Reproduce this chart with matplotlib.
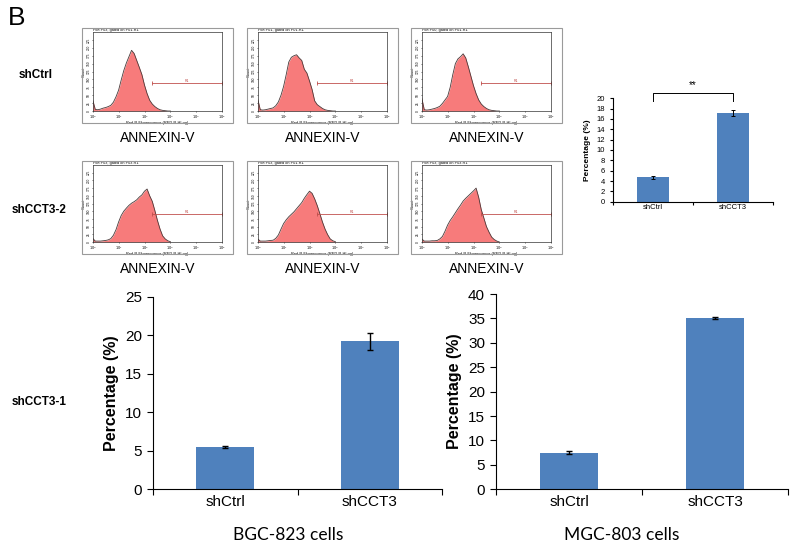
import matplotlib
matplotlib.use("Agg")
import matplotlib.pyplot as plt
import numpy as np
from matplotlib.patches import Rectangle

plt.rcParams['font.family'] = ['Liberation Sans', 'DejaVu Sans']

W, H = 800, 547

# ---- flow cytometry histograms (counts read at log10 steps of 0.1 from 10^0 to 10^3)
log_pos = np.round(np.arange(0, 3.01, 0.1), 1)
ctrl_1 = [35, 5, 4, 6, 9, 11, 14, 18, 28, 45, 66, 98, 128, 152, 172, 192, 182, 160, 138, 115,
          82, 55, 34, 22, 14, 8, 4, 2, 1, 0, 0]
ctrl_2 = [38, 4, 3, 4, 6, 8, 10, 17, 29, 50, 78, 115, 155, 170, 175, 178, 168, 160, 132, 120,
          95, 68, 32, 20, 14, 8, 4, 2, 1, 0, 0]
ctrl_3 = [42, 4, 3, 4, 6, 8, 11, 15, 24, 35, 46, 75, 115, 150, 165, 172, 181, 168, 140, 110,
          80, 55, 35, 22, 14, 8, 4, 2, 1, 0, 0]
kd_1 = [12, 3, 3, 3, 4, 5, 7, 11, 22, 40, 65, 86, 100, 110, 119, 126, 131, 137, 146, 153,
        165, 172, 150, 132, 102, 70, 42, 20, 10, 4, 1]
kd_2 = [10, 3, 3, 3, 4, 5, 6, 12, 23, 42, 60, 72, 82, 90, 98, 108, 118, 128, 142, 154,
        165, 158, 140, 118, 92, 65, 42, 24, 10, 4, 1]
kd_3 = [10, 3, 3, 3, 4, 4, 5, 10, 18, 35, 55, 70, 82, 95, 108, 120, 133, 142, 150, 158,
        166, 175, 145, 105, 78, 50, 32, 16, 8, 3, 0]
hist_titles = [["Plot P03, gated on P01.R1", "Plot P01, gated on P01.R1", "Plot P00, gated on P01.R1"],
               ["Plot P03, gated on P03.R1", "Plot P03, gated on P01.R1", "Plot P03, gated on P03.R1"]]
gate_start = 2.28
gate_level = 90

# ---- bar charts
groups = ["shCtrl", "shCCT3"]
small_vals = [4.7, 17.2]
small_errs = [0.3, 0.6]
bgc_vals = [5.5, 19.2]
bgc_errs = [0.15, 1.1]
mgc_vals = [7.5, 35.1]
mgc_errs = [0.3, 0.25]

bar_color = "#4F81BD"


def rect(l, t, r, b):
    return [l / W, 1 - b / H, (r - l) / W, (b - t) / H]


fig = plt.figure(figsize=(8, 5.47), dpi=100)

fig.text(8 / W, 1 - 18 / H, "B", fontsize=19, va="center", ha="left")

rows = [[ctrl_1, ctrl_2, ctrl_3], [kd_1, kd_2, kd_3]]
row_tops = [32, 165]
row_bots = [111, 242]
col_lefts = [92.7, 257.7, 421.7]
for ri, row in enumerate(rows):
    for ci, counts in enumerate(row):
        l = col_lefts[ci]
        r = l + 129.5
        t, b = row_tops[ri], row_bots[ri]
        # outer grey frame
        fig.add_artist(Rectangle(((l - 10.5) / W, 1 - (b + 12) / H), (r - l + 21.5) / W,
                                 (b - t + 16) / H, transform=fig.transFigure,
                                 fill=False, edgecolor="#9A9A9A", lw=0.8))
        ax = fig.add_axes(rect(l, t, r, b))
        x = 10 ** log_pos
        ax.fill_between(x, 0, counts, color="#F77B7B", lw=0)
        ax.plot(x, counts, color="#4A3A3A", lw=0.6)
        ax.set_xscale("log")
        ax.set_xlim(1, 1e5)
        ax.set_ylim(0, 250)
        ax.plot([10 ** gate_start, 1e5], [gate_level, gate_level], color="#C0504D", lw=0.6,
                marker="|", ms=3, mew=0.6, clip_on=False)
        ax.text(10 ** 3.65, gate_level + 3, "R1", fontsize=2.5, color="#C0504D", ha="center")
        ax.set_xticks([10 ** k for k in range(6)])
        ax.set_xticklabels(["$10^%d$" % k for k in range(6)], fontsize=2.5)
        ax.minorticks_off()
        ax.set_yticks(np.arange(0, 226, 25))
        ax.set_yticklabels([str(v) for v in range(0, 226, 25)], fontsize=2.3, rotation=90,
                           va="center")
        ax.tick_params(length=1, width=0.4, pad=0.5)
        ax.set_xlabel("Red-R Fluorescence (RED-R-HLog)", fontsize=2.8, labelpad=0.5)
        ax.set_ylabel("Count", fontsize=2.8, labelpad=0.5)
        ax.set_title(hist_titles[ri][ci], fontsize=2.8, loc="left", pad=0.8)
        for s in ax.spines.values():
            s.set_linewidth(0.5)
            s.set_color("#333333")
        fig.text((l + r) / 2 / W, 1 - (138 if ri == 0 else 269) / H, "ANNEXIN-V",
                 fontsize=10, ha="center", va="center")

fig.text(36 / W, 1 - 75 / H, "shCtrl", fontsize=8.5, weight="bold", ha="center", va="center")
fig.text(39 / W, 1 - 210 / H, "shCCT3-2", fontsize=8.5, weight="bold", ha="center", va="center")
fig.text(39 / W, 1 - 402 / H, "shCCT3-1", fontsize=8.5, weight="bold", ha="center", va="center")


def bar_panel(ax, vals, errs, ymax, ystep, fs, lfs, cap, elw, xpad):
    pos = np.arange(len(groups))
    ax.bar(pos, vals, width=0.4, yerr=errs, color=bar_color, capsize=cap,
           error_kw=dict(ecolor="black", elinewidth=elw, capthick=elw))
    ax.set_xlim(-0.5, 1.5)
    ax.set_ylim(0, ymax)
    ax.set_yticks(np.arange(0, ymax + 0.01, ystep))
    ax.set_xticks(pos)
    ax.set_xticklabels(groups)
    ax.set_xticks([-0.5, 0.5, 1.5], minor=True)
    ax.tick_params(axis="x", which="major", length=0, labelsize=fs, pad=xpad)
    ax.tick_params(axis="x", which="minor", length=4 * fs / 10, width=0.8)
    ax.tick_params(axis="y", labelsize=fs, length=4 * fs / 10, width=0.8)
    ax.spines["top"].set_visible(False)
    ax.spines["right"].set_visible(False)
    ax.set_ylabel("Percentage (%)", fontsize=lfs, weight="bold")


ax = fig.add_axes(rect(613, 98.3, 773, 201.7))
bar_panel(ax, small_vals, small_errs, 20, 2, 5.5, 6, 1.5, 0.7, 2)
ax.plot([0, 0, 1, 1], [19.4, 21.1, 21.1, 19.4], color="black", lw=0.7, clip_on=False)
ax.text(0.5, 21.6, "**", fontsize=7, ha="center", va="bottom")

ax = fig.add_axes(rect(153, 296.7, 442, 489.3))
bar_panel(ax, bgc_vals, bgc_errs, 25, 5, 11, 11.5, 2.5, 1, 4)
fig.text(288 / W, 1 - 535 / H, "BGC-823 cells", fontsize=12.5, family=["Lato", "DejaVu Sans"],
         ha="center", va="center")

ax = fig.add_axes(rect(496, 294, 788, 489.3))
bar_panel(ax, mgc_vals, mgc_errs, 40, 5, 11, 11.5, 2.5, 1, 4)
fig.text(622 / W, 1 - 535 / H, "MGC-803 cells", fontsize=12.5, family=["Lato", "DejaVu Sans"],
         ha="center", va="center")

fig.savefig("out.png", dpi=100)
